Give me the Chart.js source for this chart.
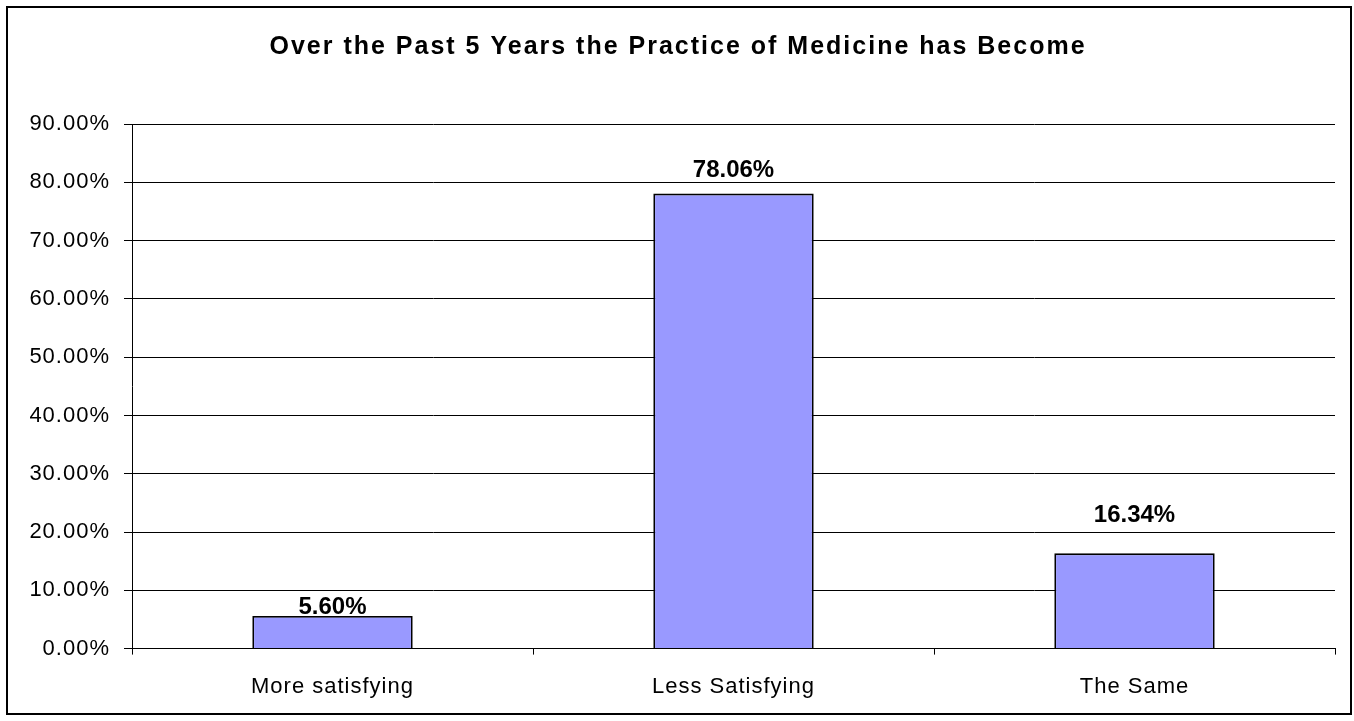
<!DOCTYPE html>
<html>
<head>
<meta charset="utf-8">
<script src="https://cdn.jsdelivr.net/npm/chart.js@4.4.1/dist/chart.umd.min.js"></script>
<style>
  html, body { margin: 0; padding: 0; background: #fff; }
  #wrap { width: 1354px; height: 721px; position: relative; }
</style>
</head>
<body>
<div id="wrap"><canvas id="c" width="1354" height="721"></canvas></div>
<script>
const titleText = 'Over the Past 5 Years the Practice of Medicine has Become';
const categories = ['More satisfying', 'Less Satisfying', 'The Same'];
const values = [5.60, 78.06, 16.34];
const yTickMax = 90;
const yTickStep = 10;

const labelGaps = [2, 17, 31];
const FONT = '"Liberation Sans", Arial, sans-serif';

const frame = {
  id: 'frame',
  beforeDraw(chart) {
    const ctx = chart.ctx;
    ctx.save();
    ctx.fillStyle = '#fff';
    ctx.fillRect(0, 0, chart.width, chart.height);
    ctx.strokeStyle = '#000';
    ctx.lineWidth = 2;
    ctx.strokeRect(7, 7, 1344, 707);
    ctx.restore();
    ctx.letterSpacing = '1px';
  },
  afterDraw(chart) {
    const ctx = chart.ctx;
    ctx.save();
    ctx.font = 'bold 25px ' + FONT;
    ctx.fillStyle = '#000';
    ctx.letterSpacing = '2px';
    ctx.textAlign = 'center';
    ctx.textBaseline = 'alphabetic';
    ctx.fillText(titleText, 678, 54);
    ctx.restore();
    ctx.letterSpacing = '0px';
  }
};

const dataLabels = {
  id: 'dataLabels',
  afterDatasetsDraw(chart) {
    const ctx = chart.ctx;
    const meta = chart.getDatasetMeta(0);
    ctx.save();
    ctx.font = 'bold 24px ' + FONT;
    ctx.fillStyle = '#000';
    ctx.letterSpacing = '0px';
    ctx.textAlign = 'center';
    ctx.textBaseline = 'alphabetic';
    meta.data.forEach((bar, i) => {
      ctx.fillText(values[i].toFixed(2) + '%', bar.x, bar.y - labelGaps[i]);
    });
    ctx.restore();
  }
};

new Chart(document.getElementById('c'), {
  type: 'bar',
  data: {
    labels: categories,
    datasets: [{
      data: values,
      backgroundColor: '#9999FF',
      borderColor: '#000',
      borderWidth: 1.8,
      categoryPercentage: 1,
      barPercentage: 0.4
    }]
  },
  options: {
    responsive: false,
    animation: false,
    devicePixelRatio: 1,
    layout: { padding: { top: 124, left: 10, right: 19, bottom: 2 } },
    plugins: {
      legend: { display: false },
      tooltip: { enabled: false },
      title: { display: false }
    },
    scales: {
      x: {
        grid: { display: true, drawOnChartArea: false, drawTicks: true, tickLength: 6, color: '#000', offset: true },
        border: { display: true, color: '#000', width: 1 },
        ticks: {
          color: '#000',
          padding: 19,
          font: { family: FONT, size: 22 }
        }
      },
      y: {
        min: 0,
        max: yTickMax,
        afterFit(scale) { scale.width = 122; },
        grid: { color: '#000', lineWidth: 1, drawTicks: true, tickLength: 8 },
        border: { display: true, color: '#000', width: 1 },
        ticks: {
          stepSize: yTickStep,
          color: '#000',
          padding: 14,
          font: { family: FONT, size: 22 },
          callback: v => v.toFixed(2) + '%'
        }
      }
    }
  },
  plugins: [frame, dataLabels]
});
</script>
</body>
</html>
